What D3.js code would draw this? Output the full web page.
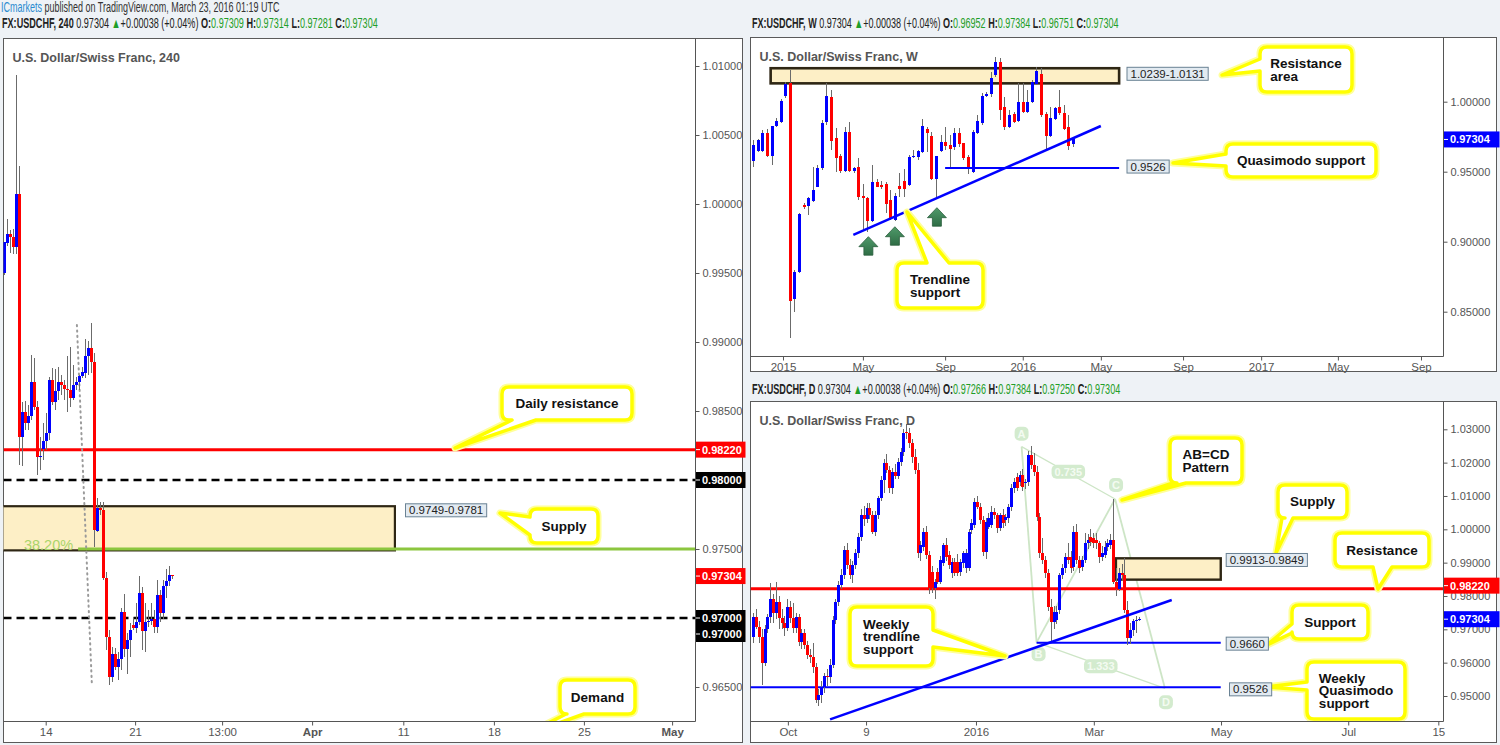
<!DOCTYPE html>
<html><head><meta charset="utf-8">
<script src="https://cdn.jsdelivr.net/npm/d3@7"></script>
<style>
body{margin:0;background:#eef2f6;}
svg{display:block;}
</style></head><body>
<svg id="c" width="1500" height="745"></svg>
<script>
// ---------------- DATA ----------------
// 4H candles [open, high, low, close], Mar 9 2016 .. Mar 23 2016
const h4Candles = [
[.99498,.99727,.99486,.99727],[.99720,.99889,.99696,.99783],[.99783,.99812,.99647,.99759],[.99759,.99817,.99638,.99691],
[.99691,1.00935,.99638,1.00072],[1.00072,1.00275,.98109,.98314],[.98314,.98567,.98101,.98495],[.98495,.98572,.98362,.98411],
[.98411,.98543,.98362,.98464],[.98464,.98906,.98435,.98712],[.98712,.98884,.98507,.98531],[.98531,.98572,.98036,.98164],
[.98164,.98314,.98072,.98174],[.98225,.98413,.98145,.98283],[.98283,.98486,.98217,.98343],[.98338,.98749,.98290,.98725],
[.98725,.98812,.98543,.98567],[.98567,.98804,.98507,.98647],[.98647,.98821,.98580,.98708],[.98708,.98761,.98616,.98688],
[.98688,.98725,.98580,.98657],[.98657,.98899,.98495,.98652],[.98652,.98966,.98531,.98592],[.98592,.98833,.98580,.98688],
[.98688,.98749,.98652,.98712],[.98712,.98761,.98652,.98754],[.98754,.98821,.98739,.98785],[.98778,.99024,.98739,.98899],
[.98899,.99007,.98761,.98957],[.98957,.99135,.98773,.98857],[.98857,.98918,.97517,.97638],[.97633,.97867,.97623,.97795],
[.97795,.97843,.97746,.97783],[.97783,.97843,.97275,.97288],[.97288,.97336,.96768,.96864],[.96864,.96913,.96514,.96570],
[.96570,.96792,.96538,.96739],[.96739,.96783,.96623,.96643],[.96643,.96756,.96551,.96703],[.96703,.97070,.96623,.97041],
[.97041,.97174,.96720,.96773],[.96773,.96889,.96594,.96841],[.96841,.96964,.96720,.96913],[.96949,.97009,.96913,.96925],
[.96925,.97109,.96891,.96969],[.96969,.97306,.96949,.97179],[.97179,.97227,.96768,.96908],[.96908,.97109,.96756,.96973],
[.96973,.97058,.96937,.96980],[.96980,.97109,.96949,.96990],[.96990,.97058,.96891,.96937],[.96937,.97275,.96889,.97164],
[.97164,.97203,.96973,.97034],[.97034,.97275,.96990,.97232],[.97232,.97358,.97145,.97270],[.97270,.97380,.97232,.97309],
[.97309,.97314,.97281,.97304]
];
// Weekly candles, Nov 2014 .. Mar 2016
const weeklyCandles = [
[.9576,.9726,.9536,.9691],[.9648,.9731,.9643,.9726],[.9650,.9798,.9643,.9779],[.9779,.9803,.9607,.9612],
[.9612,.9826,.9548,.9826],[.9826,.9881,.9822,.9864],[.9853,1.0017,.9850,1.0007],[1.0041,1.0143,1.0024,1.0124],
[1.0131,1.0226,.8310,.8579],[.8591,.8798,.8500,.8786],[.8786,.9207,.8774,.9198],[.9262,.9274,.9231,.9245],
[.9257,.9322,.9191,.9315],[.9293,.9536,.9286,.9369],[.9393,.9548,.9393,.9529],[.9524,.9869,.9512,.9845],
[.9857,1.0131,.9834,1.0041],[1.0031,1.0084,.9655,.9722],[.9743,.9810,.9500,.9600],[.9612,.9626,.9488,.9507],
[.9507,.9817,.9500,.9786],[.9786,.9857,.9500,.9507],[.9507,.9536,.9493,.9529],[.9536,.9595,.9298,.9322],
[.9329,.9412,.9084,.9310],[.9315,.9322,.9072,.9150],[.9150,.9548,.9143,.9424],[.9424,.9448,.9388,.9393],
[.9403,.9436,.9374,.9388],[.9412,.9429,.9203,.9269],[.9298,.9369,.9155,.9160],[.9155,.9345,.9150,.9329],
[.9398,.9493,.9322,.9374],[.9434,.9522,.9322,.9374],[.9405,.9619,.9398,.9607],[.9603,.9655,.9595,.9612],
[.9607,.9655,.9583,.9650],[.9643,.9876,.9631,.9826],[.9805,.9822,.9643,.9779],[.9755,.9786,.9441,.9448],
[.9448,.9612,.9322,.9612],[.9650,.9762,.9643,.9714],[.9714,.9817,.9655,.9684],[.9688,.9762,.9524,.9662],
[.9674,.9810,.9655,.9779],[.9779,.9810,.9679,.9698],[.9703,.9707,.9583,.9595],[.9607,.9619,.9484,.9519],
[.9500,.9798,.9493,.9786],[.9779,.9905,.9769,.9864],[.9845,1.0065,.9834,1.0041],[1.0041,1.0072,1.0031,1.0053],
[1.0053,1.0214,1.0036,1.0172],[1.0191,1.0322,1.0179,1.0286],[1.0286,1.0310,.9869,.9941],[.9960,1.0036,.9798,.9817],
[.9822,.9941,.9810,.9905],[.9912,.9929,.9850,.9857],[.9862,1.0131,.9857,.9995],[.9995,1.0131,.9917,.9929],
[.9929,1.0084,.9917,1.0000],[1.0000,1.0155,.9988,1.0143],[1.0126,1.0246,1.0119,1.0222],[1.0198,1.0240,.9893,.9905],
[.9912,.9929,.9655,.9755],[.9755,.9965,.9745,.9881],[.9876,.9965,.9869,.9953],[.9960,1.0084,.9905,.9917],
[.9917,.9976,.9798,.9805],[.9817,.9905,.9655,.9686],[.96952,.97384,.96751,.97304]
];
// Daily candles, mid Sep 2015 .. Mar 23 2016
const dailyCandles = [
[.9676,.9750,.9660,.9736],[.9736,.9760,.9700,.9708],[.9708,.9725,.9660,.9676],[.9676,.9700,.9533,.9600],
[.9600,.9712,.9590,.9700],[.9700,.9745,.9690,.9738],[.9738,.9840,.9720,.9790],[.9790,.9805,.9720,.9748],
[.9748,.9843,.9730,.9783],[.9783,.9800,.9700,.9733],[.9733,.9760,.9700,.9718],[.9718,.9740,.9680,.9703],
[.9703,.9790,.9695,.9768],[.9768,.9785,.9720,.9733],[.9733,.9780,.9690,.9703],[.9703,.9750,.9690,.9738],
[.9738,.9745,.9650,.9663],[.9663,.9700,.9640,.9688],[.9688,.9700,.9640,.9653],[.9653,.9665,.9610,.9623],
[.9623,.9640,.9600,.9618],[.9618,.9660,.9570,.9588],[.9588,.9600,.9478,.9488],[.9488,.9520,.9470,.9503],
[.9503,.9545,.9480,.9528],[.9528,.9570,.9510,.9560],[.9560,.9580,.9530,.9558],[.9558,.9610,.9540,.9593],
[.9593,.9740,.9585,.9728],[.9728,.9790,.9715,.9783],[.9783,.9845,.9770,.9833],[.9833,.9880,.9820,.9863],
[.9863,.9950,.9850,.9938],[.9938,.9960,.9880,.9893],[.9893,.9910,.9850,.9863],[.9863,.9905,.9840,.9893],
[.9893,.9940,.9880,.9928],[.9928,.9990,.9915,.9978],[.9978,1.0060,.9965,1.0043],[1.0043,1.0070,1.0010,1.0030],
[1.0030,1.0080,1.0020,1.0063],[1.0063,1.0080,1.0030,1.0043],[1.0043,1.0055,.9985,.9993],[.9993,1.0055,.9980,1.0043],
[1.0043,1.0100,1.0030,1.0093],[1.0093,1.0160,1.0085,1.0148],[1.0148,1.0210,1.0110,1.0198],[1.0198,1.0225,1.0170,1.0178],
[1.0178,1.0190,1.0110,1.0123],[1.0123,1.0185,1.0105,1.0173],[1.0173,1.0195,1.0150,1.0160],[1.0160,1.0215,1.0150,1.0203],
[1.0203,1.0245,1.0190,1.0233],[1.0233,1.0300,1.0220,1.0288],[1.0293,1.0315,1.0270,1.0288],[1.0288,1.0305,1.0245,1.0258],
[1.0258,1.0270,1.0200,1.0218],[1.0218,1.0240,1.0165,1.0178],[1.0178,1.0200,.9915,.9928],[.9928,.9965,.9905,.9953],
[.9948,1.0005,.9935,.9993],[.9993,1.0010,.9910,.9923],[.9923,.9935,.9805,.9823],[.9873,.9890,.9810,.9823],
[.9823,.9850,.9790,.9843],[.9873,.9885,.9835,.9843],[.9843,.9920,.9835,.9908],[.9898,.9960,.9890,.9953],
[.9953,.9975,.9905,.9918],[.9923,.9935,.9880,.9893],[.9868,.9915,.9855,.9903],[.9903,.9915,.9860,.9868],
[.9903,.9925,.9860,.9868],[.9873,.9910,.9860,.9903],[.9898,.9935,.9885,.9928],[.9883,.9940,.9870,.9928],
[.9883,1.0000,.9875,.9993],[.9998,1.0030,.9985,1.0018],[1.0013,1.0095,1.0005,1.0083],[1.0083,1.0100,1.0060,1.0068],
[1.0068,1.0080,1.0015,1.0028],[1.0028,1.0040,.9920,.9933],[.9933,1.0035,.9910,1.0023],[1.0008,1.0050,1.0000,1.0033],
[1.0013,1.0070,1.0005,1.0053],[1.0053,1.0065,1.0030,1.0043],[1.0043,1.0050,.9990,1.0003],[1.0003,1.0050,.9995,1.0043],
[1.0043,1.0060,1.0005,1.0018],[1.0028,1.0045,1.0010,1.0038],[1.0033,1.0075,1.0020,1.0068],[1.0068,1.0135,1.0055,1.0123],
[1.0123,1.0155,1.0110,1.0143],[1.0158,1.0170,1.0115,1.0123],[1.0143,1.0175,1.0130,1.0163],[1.0163,1.0180,1.0115,1.0128],
[1.0138,1.0150,1.0120,1.0143],[1.0143,1.0235,1.0130,1.0223],[1.0223,1.0250,1.0180,1.0193],[1.0193,1.0230,1.0160,1.0173],
[1.0173,1.0190,1.0025,1.0038],[1.0038,1.0050,.9915,.9928],[.9928,.9975,.9895,.9908],[.9908,.9920,.9855,.9868],
[.9868,.9880,.9755,.9768],[.9768,.9790,.9658,.9723],[.9723,.9770,.9700,.9753],[.9728,.9770,.9715,.9753],
[.9758,.9870,.9745,.9863],[.9863,.9895,.9850,.9883],[.9883,.9930,.9870,.9918],[.9918,.9960,.9895,.9908],
[.9918,.9935,.9870,.9883],[.9888,1.0010,.9875,.9993],[.9993,1.0015,.9895,.9908],[.9908,.9920,.9870,.9883],
[.9888,.9920,.9875,.9908],[.9908,.9990,.9900,.9958],[.9958,.9985,.9940,.9968],[.9978,1.0000,.9950,.9963],
[.9973,.9990,.9945,.9958],[.9968,.9990,.9940,.9958],[.9958,.9965,.9900,.9918],[.9918,.9950,.9905,.9928],
[.9923,.9965,.9915,.9948],[.9948,.9970,.9935,.9958],[.9953,.9985,.9940,.9968],[.9968,1.0091,.9835,.9843],
[.9843,.9885,.9800,.9820],[.9820,.9885,.9815,.9868],[.9868,.9895,.9845,.9862],[.9862,.9915,.9750,.9758],
[.9758,.9785,.9652,.9673],[.9673,.9718,.9655,.9698],[.9698,.9732,.9680,.9725],[.9725,.9740,.9690,.9727],
[.97266,.97384,.97250,.97304]
];
// time axis labels: [bar index, label]
const h4TimeTicks = [[13.8,"14"],[43.6,"21"],[72.6,"13:00"],[102.6,"Apr"],[133,"11"],[163.2,"18"],[193.2,"25"],[222.6,"May"]];
const weeklyTimeTicks = [[6.5,"2015"],[24,"May"],[42,"Sep"],[59,"2016"],[76.1,"May"],[94.1,"Sep"],[111.2,"2017"],[128,"May"],[146.2,"Sep"]];
const dailyTimeTicks = [[12.2,"Oct"],[39.8,"9"],[78.6,"2016"],[120.2,"Mar"],[165.1,"May"],[210,"Jul"],[241.8,"15"]];
// price axis ticks
const h4PriceTicks = [1.01,1.005,1.0,0.995,0.99,0.985,0.98,0.975,0.97,0.965];
const weeklyPriceTicks = [1.0,0.95,0.90,0.85];
const dailyPriceTicks = [1.03,1.02,1.01,1.0,0.99,0.98,0.97,0.96,0.95];
// levels
const h4Levels = [0.9822, 0.98, 0.97];          // daily resistance, round numbers
const h4Supply = [0.9781, 0.9749];
const h4Fib = [0.975];                           // 38.2% retracement level
const h4FibTrend = [[24.2, 0.99123],[29.2, 0.96514]];
const weeklyResistance = [1.0239, 1.0131];
const weeklyQM = [0.9526];
const weeklyTrend = [[21.9, 0.9048],[76.1, 0.98264]];
const weeklyArrows = [[25.2, 0.9036],[31, 0.9107],[40.2, 0.9243]];
const dailyLevels = [0.9822, 0.9660, 0.9526];
const dailySupply = [0.9913, 0.9849];
const dailyTrend = [[27.1, 0.9430],[147.7, 0.9788]];
const abcdPoints = [["A",94.7,1.0248],["B",100,0.9661],["C",127.7,1.0091],["D",145.3,0.9523]];
const abcdRatios = ["0.735","1.333"];
const lastPrice = 0.97304;

// ---------------- DRAWING ----------------
const svg = d3.select("#c");
const SANS = "'Liberation Sans', Arial, sans-serif";
const NARROW = "'Liberation Sans Narrow','Liberation Sans',Arial,sans-serif";
const fmt5 = d3.format(".5f");
const GREEN = "#1f9e28";
let clipId = 0;

function makePanel(cfg){
  const g = svg.append("g");
  g.append("rect").attr("x",cfg.box.x).attr("y",cfg.box.y).attr("width",cfg.box.w).attr("height",cfg.box.h)
    .attr("fill","#fff").attr("stroke","#5a5a5a").attr("stroke-width",1);
  const id = "clip"+(clipId++);
  g.append("clipPath").attr("id",id).append("rect")
    .attr("x",cfg.plot.x0).attr("y",cfg.plot.y0).attr("width",cfg.plot.x1-cfg.plot.x0).attr("height",cfg.plot.y1-cfg.plot.y0);
  const p = g.append("g").attr("clip-path",`url(#${id})`);
  g.append("line").attr("x1",cfg.plot.x1+0.5).attr("x2",cfg.plot.x1+0.5).attr("y1",cfg.box.y).attr("y2",cfg.plot.y1+0.5)
    .attr("stroke","#555");
  g.append("line").attr("x1",cfg.box.x).attr("x2",cfg.plot.x1+0.5).attr("y1",cfg.plot.y1+0.5).attr("y2",cfg.plot.y1+0.5)
    .attr("stroke","#555");
  const ya = d3.axisRight(cfg.ys).tickValues(cfg.yTicks).tickFormat(fmt5).tickSize(4).tickPadding(3);
  const yg = g.append("g").attr("transform",`translate(${cfg.plot.x1+0.5},0)`).call(ya);
  yg.select(".domain").remove();
  yg.selectAll("line").attr("stroke","#555");
  yg.selectAll("text").attr("font-family",SANS).attr("font-size",11).attr("fill","#555");
  const xa = d3.axisBottom(cfg.xs).tickValues(cfg.xTicks.map(t=>t[0])).tickFormat((v,i)=>cfg.xTicks[i][1]).tickSize(4).tickPadding(2);
  const xg = g.append("g").attr("transform",`translate(0,${cfg.plot.y1+0.5})`).call(xa);
  xg.select(".domain").remove();
  xg.selectAll("line").attr("stroke","#555");
  xg.selectAll("text").attr("font-family",SANS).attr("font-size",11.5).attr("fill","#555")
    .attr("font-weight",(d,i)=>cfg.bold && cfg.bold.includes(cfg.xTicks[i][1])?"bold":null);
  g.append("text").attr("x",cfg.box.x+9).attr("y",cfg.box.y+23).text(cfg.title)
    .attr("font-family",SANS).attr("font-weight","bold").attr("font-size",12.5).attr("fill","#555");
  return {g, p, xs:cfg.xs, ys:cfg.ys, plot:cfg.plot, box:cfg.box};
}

function drawCandles(P, data, bw){
  const c = P.p.append("g").attr("shape-rendering","crispEdges");
  c.selectAll("line").data(data).join("line")
    .attr("x1",(d,i)=>Math.round(P.xs(i))+0.5).attr("x2",(d,i)=>Math.round(P.xs(i))+0.5)
    .attr("y1",d=>P.ys(d[1])).attr("y2",d=>P.ys(d[2])).attr("stroke","#6b6b6b").attr("stroke-width",1);
  c.selectAll("rect").data(data).join("rect")
    .attr("x",(d,i)=>Math.round(P.xs(i))+0.5-bw/2).attr("width",bw)
    .attr("y",d=>P.ys(Math.max(d[0],d[3])))
    .attr("height",d=>Math.max(1,Math.abs(P.ys(d[0])-P.ys(d[3]))))
    .attr("fill",d=>d[3]>=d[0]?"#0000ff":"#ff0000");
}

function hline(P, price, i0, i1, color, width, dash){
  const l = P.p.append("line").attr("x1",i0===null?P.plot.x0:P.xs(i0)).attr("x2",i1===null?P.plot.x1:P.xs(i1))
    .attr("y1",P.ys(price)).attr("y2",P.ys(price)).attr("stroke",color).attr("stroke-width",width);
  if(dash) l.attr("stroke-dasharray",dash);
  return l;
}

function zone(P, top, bot, i0, i1, sw){
  const x0 = i0===null?P.plot.x0-3:P.xs(i0);
  P.p.append("rect").attr("x",x0).attr("y",P.ys(top))
    .attr("width",P.xs(i1)-x0).attr("height",P.ys(bot)-P.ys(top))
    .attr("fill","#fdefc6").attr("stroke","#2e2614").attr("stroke-width",sw);
}

function valueBox(P, x, price, txt, dy){
  const t = P.g.append("text").attr("x",x+4).attr("y",P.ys(price)+(dy||0)+4).text(txt)
    .attr("font-family",SANS).attr("font-size",11.5).attr("fill","#222");
  const w = t.node().getComputedTextLength();
  P.g.insert("rect", function(){return t.node();}).attr("x",x+0.5).attr("y",P.ys(price)+(dy||0)-6.5).attr("width",w+7).attr("height",13)
    .attr("fill","#e2eaf1").attr("stroke","#6a8294").attr("stroke-width",1);
}

function priceTag(P, price, txt, bg, dy){
  const y = P.ys(price)+(dy||0);
  P.g.append("rect").attr("x",P.plot.x1+1).attr("y",y-8).attr("width",P.box.x+P.box.w-P.plot.x1+2).attr("height",16).attr("fill",bg);
  P.g.append("line").attr("x1",P.plot.x1+1).attr("x2",P.plot.x1+5).attr("y1",y).attr("y2",y).attr("stroke","#fff");
  P.g.append("text").attr("x",P.plot.x1+7).attr("y",y+4).text(txt)
    .attr("font-family",SANS).attr("font-size",11).attr("font-weight","bold").attr("fill","#fff");
}

function callout(layer, x,y,w,h, side,a,b, tx,ty, lines){
  const r=7;
  let p=`M${x+r},${y}`;
  if(side==="top") p+=`L${x+a},${y}L${tx},${ty}L${x+b},${y}`;
  p+=`L${x+w-r},${y}Q${x+w},${y} ${x+w},${y+r}`;
  if(side==="right") p+=`L${x+w},${y+a}L${tx},${ty}L${x+w},${y+b}`;
  p+=`L${x+w},${y+h-r}Q${x+w},${y+h} ${x+w-r},${y+h}`;
  if(side==="bottom") p+=`L${x+b},${y+h}L${tx},${ty}L${x+a},${y+h}`;
  p+=`L${x+r},${y+h}Q${x},${y+h} ${x},${y+h-r}`;
  if(side==="left") p+=`L${x},${y+b}L${tx},${ty}L${x},${y+a}`;
  p+=`L${x},${y+r}Q${x},${y} ${x+r},${y}Z`;
  const g = layer.append("g");
  g.append("path").attr("d",p).attr("fill","none").attr("stroke","#ffff9a").attr("stroke-width",7).attr("stroke-linejoin","round");
  g.append("path").attr("d",p).attr("fill","#fff").attr("stroke","#ffff00").attr("stroke-width",3.5).attr("stroke-linejoin","round");
  const lh = 12.5;
  const tg = g.append("g");
  const texts = lines.map((s,k)=>tg.append("text").attr("x",0).attr("y",k*lh).text(s)
    .attr("font-family",SANS).attr("font-weight","bold").attr("font-size",13.5).attr("fill","#111"));
  const mw = d3.max(texts, t=>t.node().getComputedTextLength());
  const blockH = (lines.length-1)*lh;
  tg.attr("transform",`translate(${x+(w-mw)/2},${y+h/2-blockH/2+4.8})`);
}

// header text: one <text> with tspans, scaled horizontally to the reference width
function header(x, y, parts, len){
  const g = svg.append("g");
  const t = g.append("text").attr("x",0).attr("y",0).attr("font-family",NARROW).attr("font-size",14);
  parts.forEach(p=>{ const s=t.append("tspan").text(p.t).attr("fill",p.c||"#222"); if(p.b) s.attr("font-weight","bold"); });
  const w = t.node().getComputedTextLength();
  g.attr("transform",`translate(${x},${y}) scale(${len/w},1)`);
}
function ohlcParts(label, c){
  return [{t:label+"  ",b:1},{t:fmt5(c[3])+" "},{t:"▲",c:GREEN},{t:"+0.00038 (+0.04%)  "},
    {t:"O:",b:1},{t:fmt5(c[0])+"  ",c:GREEN},{t:"H:",b:1},{t:fmt5(c[1])+"  ",c:GREEN},
    {t:"L:",b:1},{t:fmt5(c[2])+"  ",c:GREEN},{t:"C:",b:1},{t:fmt5(c[3]),c:GREEN}];
}

header(1, 12, [{t:"ICmarkets",c:"#2a8bd0"},{t:" published on TradingView.com, March 23, 2016 01:19 UTC",c:"#333"}], 279);
header(2, 28, ohlcParts("FX:USDCHF, 240", h4Candles[h4Candles.length-1]), 376);
header(752, 28, ohlcParts("FX:USDCHF, W", weeklyCandles[weeklyCandles.length-1]), 367);
header(752, 394, ohlcParts("FX:USDCHF, D", dailyCandles[dailyCandles.length-1]), 369);

// ---------- LEFT 4H PANEL ----------
const L = makePanel({
  box:{x:3.5,y:38.5,w:739,h:704}, plot:{x0:3.5,x1:695,y0:38.5,y1:721},
  xs:d3.scaleLinear().domain([0,1]).range([4.3,7.3]),
  ys:d3.scaleLinear().domain([1.01,0.965]).range([66,687]),
  yTicks:h4PriceTicks, xTicks:h4TimeTicks, title:"U.S. Dollar/Swiss Franc, 240", bold:["Apr","May"]
});
zone(L, h4Supply[0], h4Supply[1], null, 130.2, 2.2);
hline(L, h4Fib[0], 24.6, null, "#8cc63f", 3);
L.p.append("text").attr("x",L.xs(24.6)-5).attr("y",L.ys(h4Fib[0])+1).attr("text-anchor","end").text("38.20%")
  .attr("font-family",SANS).attr("font-size",14.5).attr("fill","#aad46a");
hline(L, h4Levels[0], null, null, "#ff0000", 3);
hline(L, h4Levels[1], null, null, "#000", 2.5, "8,5");
hline(L, h4Levels[2], null, null, "#000", 2.5, "8,5");
L.p.append("line").attr("x1",L.xs(h4FibTrend[0][0])).attr("y1",L.ys(h4FibTrend[0][1]))
  .attr("x2",L.xs(h4FibTrend[1][0])).attr("y2",L.ys(h4FibTrend[1][1]))
  .attr("stroke","#9a9a9a").attr("stroke-width",2).attr("stroke-dasharray","1.2,4.2").attr("stroke-linecap","round");
drawCandles(L, h4Candles, 2.6);
valueBox(L, 405, (h4Supply[0]+h4Supply[1])/2, "0.9749-0.9781", -18);
callout(L.p, 502,387,130,33, "bottom",10,34, 455,448, ["Daily resistance"]);
callout(L.p, 530,509,68,34, "left",8,26, 500,513, ["Supply"]);
callout(L.p, 560,680,75,34, "bottom",6,24, 525,735, ["Demand"]);
priceTag(L, h4Levels[0], fmt5(h4Levels[0]), "#ff0000");
priceTag(L, h4Levels[1], fmt5(h4Levels[1]), "#000");
priceTag(L, lastPrice, fmt5(lastPrice), "#ff0000");
priceTag(L, h4Levels[2], fmt5(h4Levels[2]), "#000");
priceTag(L, h4Levels[2], fmt5(h4Levels[2]), "#000", 16);

// ---------- WEEKLY PANEL ----------
const Wk = makePanel({
  box:{x:750.5,y:37.5,w:746,h:334}, plot:{x0:750.5,x1:1443,y0:37.5,y1:356},
  xs:d3.scaleLinear().domain([0,1]).range([753.3,757.867]),
  ys:d3.scaleLinear().domain([1.0,0.95]).range([101.7,171.7]),
  yTicks:weeklyPriceTicks, xTicks:weeklyTimeTicks, title:"U.S. Dollar/Swiss Franc, W"
});
zone(Wk, weeklyResistance[0], weeklyResistance[1], 3.8, 80.1, 2.6);
drawCandles(Wk, weeklyCandles, 3.2);
hline(Wk, weeklyQM[0], 42, 80.1, "#0000ff", 2);
Wk.p.append("line").attr("x1",Wk.xs(weeklyTrend[0][0])).attr("y1",Wk.ys(weeklyTrend[0][1]))
  .attr("x2",Wk.xs(weeklyTrend[1][0])).attr("y2",Wk.ys(weeklyTrend[1][1])).attr("stroke","#0000ff").attr("stroke-width",2.5);
const arrowG = Wk.p.append("g");
const grad = svg.append("defs").append("linearGradient").attr("id","ag").attr("x1",0).attr("y1",0).attr("x2",0).attr("y2",1);
grad.append("stop").attr("offset","0").attr("stop-color","#4f9a6a");
grad.append("stop").attr("offset","1").attr("stop-color","#2f6d45");
weeklyArrows.forEach(a=>{
  const cx = Wk.xs(a[0]), ty = Wk.ys(a[1]);
  const pts = [[cx,ty],[cx+9.5,ty+10],[cx+4.5,ty+10],[cx+4.5,ty+18.5],[cx-4.5,ty+18.5],[cx-4.5,ty+10],[cx-9.5,ty+10]];
  arrowG.append("polygon").attr("points",pts.map(p=>p.join(",")).join(" ")).attr("fill","url(#ag)").attr("stroke","#2a5e3c").attr("stroke-width",0.8);
});
valueBox(Wk, 1126.5, (weeklyResistance[0]+weeklyResistance[1])/2, "1.0239-1.0131", -2);
valueBox(Wk, 1126.5, weeklyQM[0], "0.9526", -1.5);
callout(Wk.p, 1260,47,92,45, "left",12,24, 1222,75, ["Resistance","area"]);
callout(Wk.p, 1226,144,150,33, "left",10,22, 1173,163, ["Quasimodo support"]);
callout(Wk.p, 897,263,86,45, "top",30,52, 907,212, ["Trendline","support"]);
priceTag(Wk, lastPrice, fmt5(lastPrice), "#0000ff");

// ---------- DAILY PANEL ----------
const D = makePanel({
  box:{x:750.5,y:401.5,w:746,h:341}, plot:{x0:750.5,x1:1443,y0:401.5,y1:721},
  xs:d3.scaleLinear().domain([0,1]).range([753.3,756.133]),
  ys:d3.scaleLinear().domain([1.03,0.95]).range([429.3,696]),
  yTicks:dailyPriceTicks, xTicks:dailyTimeTicks, title:"U.S. Dollar/Swiss Franc, D"
});
const abG = D.p.append("g");
const P_ = {}; abcdPoints.forEach(p=>P_[p[0]]={x:D.xs(p[1]),y:D.ys(p[2])});
[["A","B"],["B","C"],["C","D"],["A","C"],["B","D"]].forEach(s=>{
  abG.append("line").attr("x1",P_[s[0]].x).attr("y1",P_[s[0]].y).attr("x2",P_[s[1]].x).attr("y2",P_[s[1]].y)
    .attr("stroke","#cde5c6").attr("stroke-width",(s[0]==="A"&&s[1]==="C")||(s[0]==="B"&&s[1]==="D")?1.2:1.8);
});
zone(D, dailySupply[0], dailySupply[1], 128, 165, 2.4);
hline(D, dailyLevels[0], null, null, "#ff0000", 3);
hline(D, dailyLevels[1], 100, 165, "#0000ff", 2);
hline(D, dailyLevels[2], null, 165, "#0000ff", 2);
drawCandles(D, dailyCandles, 2.2);
D.p.append("line").attr("x1",D.xs(dailyTrend[0][0])).attr("y1",D.ys(dailyTrend[0][1]))
  .attr("x2",D.xs(dailyTrend[1][0])).attr("y2",D.ys(dailyTrend[1][1])).attr("stroke","#0000ff").attr("stroke-width",2.5);
function abLabel(x,y,txt){
  const t = abG.append("text").attr("x",x).attr("y",y+4).attr("text-anchor","middle").text(txt)
    .attr("font-family",SANS).attr("font-weight","bold").attr("font-size",11).attr("fill","#f4fbf2");
  const w = t.node().getComputedTextLength();
  abG.insert("rect",function(){return t.node();}).attr("x",x-w/2-3).attr("y",y-7).attr("width",w+6).attr("height",14).attr("rx",5)
    .attr("fill","#d3ebce");
}
abLabel(P_.A.x, P_.A.y-13, "A");
abLabel(P_.B.x+2, P_.B.y+12, "B");
abLabel(P_.C.x+1, P_.C.y-14, "C");
abLabel(P_.D.x+1, P_.D.y+14, "D");
abLabel((P_.A.x+P_.C.x)/2, (P_.A.y+P_.C.y)/2-1, abcdRatios[0]);
abLabel((P_.B.x+P_.D.x)/2, (P_.B.y+P_.D.y)/2+1, abcdRatios[1]);
valueBox(D, 1225.7, (dailySupply[0]+dailySupply[1])/2, "0.9913-0.9849", -9);
valueBox(D, 1225.7, dailyLevels[1], "0.9660", 1);
valueBox(D, 1229, dailyLevels[2], "0.9526", 2);
callout(D.p, 1170,438,72,45, "bottom",3,16, 1122,500, ["AB=CD","Pattern"]);
callout(D.p, 1278,485,69,33, "bottom",4,15, 1276,553, ["Supply"]);
callout(D.p, 1335,533,94,34, "bottom",38,57, 1378,589, ["Resistance"]);
callout(D.p, 1292,605,76,34, "left",19,28, 1267,645, ["Support"]);
callout(D.p, 1307,662,98,57, "left",20,28, 1265,687, ["Weekly","Quasimodo","support"]);
callout(D.p, 850,607,83,59, "right",23,40, 1005,656, ["Weekly","trendline","support"]);
priceTag(D, dailyLevels[0], fmt5(dailyLevels[0]), "#ff0000", -3);
priceTag(D, lastPrice, fmt5(lastPrice), "#0000ff");
</script>
</body></html>
